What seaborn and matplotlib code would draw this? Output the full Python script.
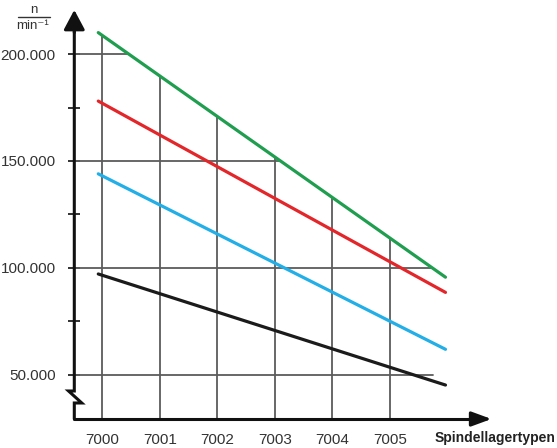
import numpy as np
import pandas as pd
import matplotlib
matplotlib.use('Agg')
import matplotlib.pyplot as plt
from matplotlib.lines import Line2D
import seaborn as sns

# bearing types on the x axis
types = ['7000', '7001', '7002', '7003', '7004', '7005']
# line start / end positions (index of bearing type)
x_ends = [-0.07, 5.97]
# speed limits n [1/min] at start and end of each line
green_n = [210000, 95700]
red_n = [178000, 88600]
blue_n = [144000, 62000]
black_n = [97200, 45300]
series_names = ['green', 'red', 'blue', 'black']
series_colors = ['#1f9e4f', '#e3262a', '#22aee6', '#1b1b1b']

y_major = [50000, 100000, 150000, 200000]
y_major_labels = ['50.000', '100.000', '150.000', '200.000']
y_minor = [75000, 125000, 175000]

sns.set_style('white')
plt.rcParams['font.family'] = ['Liberation Sans Narrow', 'Liberation Sans', 'DejaVu Sans']

W, H = 557, 448
fig = plt.figure(figsize=(W / 100, H / 100), dpi=100)
# axes placed in pixel terms: y axis at x=74, x axis at y=419
ax = fig.add_axes([74.3 / W, (H - 419) / H, (W - 74.3) / W, (419 - 8) / H])

x_left, x_right = -0.487, 7.91
y_bot, y_top = 29430, 221500
ax.set_xlim(x_left, x_right)
ax.set_ylim(y_bot, y_top)

df = pd.DataFrame({
	'pos': x_ends * 4,
	'n': green_n + red_n + blue_n + black_n,
	'series': [s for s in series_names for _ in range(2)],
})
sns.lineplot(ax=ax, data=df, x='pos', y='n', hue='series', palette=series_colors,
			 hue_order=series_names, legend=False, lw=2.3, zorder=3)

grid_col = '#5c5c5c'
# vertical grid lines up to the top (green) line
for i in range(len(types)):
	top = np.interp(i, x_ends, green_n)
	ax.plot([i, i], [y_bot, top], color=grid_col, lw=1.3, zorder=1)
# horizontal grid lines from the axis to the green line
for v in y_major:
	xg = np.interp(v, green_n[::-1], x_ends[::-1])
	xg = min(xg, 5.75)
	ax.plot([x_left, xg], [v, v], color=grid_col, lw=1.3, zorder=1)

for s in ax.spines.values():
	s.set_visible(False)

ax.set_xticks(range(len(types)))
ax.set_xticklabels(types, fontsize=11, color='#333333')
ax.tick_params(axis='x', length=0, pad=10)
ax.set_yticks(y_major)
ax.set_yticklabels(y_major_labels, fontsize=11, color='#333333')
ax.set_yticks(y_minor, minor=True)
ax.tick_params(axis='y', which='both', left=True, direction='inout', length=9,
			   width=1.3, color='#222222', pad=9)
ax.set_xlabel('')
ax.set_ylabel('')

axis_col = '#111111'
# y axis with break symbol
dxr, dxl = 0.13, -0.10
y_z1, y_z2 = 36910, 42520
ax.plot([x_left, x_left, x_left + dxr, x_left + dxl, x_left, x_left],
		[y_bot, y_z1, y_z1, y_z2, y_z2, 212000],
		color=axis_col, lw=2.2, clip_on=False, zorder=4, solid_joinstyle='miter')
ax.annotate('', xy=(x_left, 220600), xytext=(x_left, 210000),
			arrowprops=dict(arrowstyle='-|>,head_length=0.6,head_width=0.32',
							mutation_scale=20, color=axis_col, lw=2.2,
							shrinkA=0, shrinkB=0), zorder=4)
# x axis
ax.plot([x_left, 6.5], [y_bot, y_bot], color=axis_col, lw=2.2, clip_on=False, zorder=4)
ax.annotate('', xy=(6.77, y_bot), xytext=(6.4, y_bot),
			arrowprops=dict(arrowstyle='-|>,head_length=0.6,head_width=0.22',
							mutation_scale=20, color=axis_col, lw=2.2,
							shrinkA=0, shrinkB=0), zorder=4)

fig.text(555 / W, 1 - 438 / H, 'Spindellagertypen', ha='right', va='center',
		 fontsize=10, fontweight='bold', color='#222222')

# unit label n / min^-1
fig.text(34 / W, 1 - 10 / H, 'n', ha='center', va='center', fontsize=9.5, color='#333333')
fig.text(33 / W, 1 - 26 / H, 'min⁻¹', ha='center', va='center', fontsize=9.5,
		 color='#333333')
fig.add_artist(Line2D([18 / W, 50 / W], [1 - 17 / H, 1 - 17 / H], color='#333333', lw=1))

fig.savefig('out.png', dpi=100)
